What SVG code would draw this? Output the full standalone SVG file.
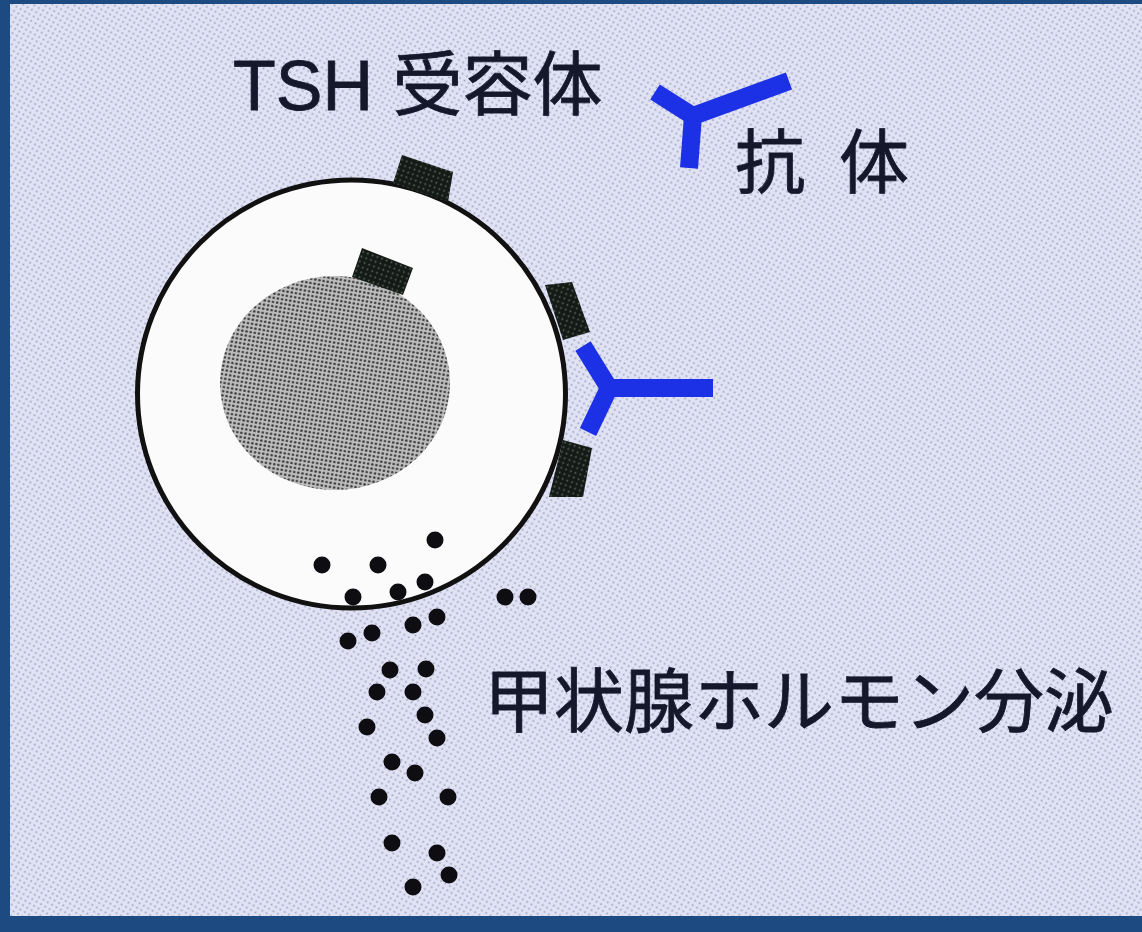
<svg xmlns="http://www.w3.org/2000/svg" width="1142" height="932" viewBox="0 0 1142 932">
  <defs>
    <!-- printed halftone screens -->
    <pattern id="screen-bg" width="5" height="5" patternUnits="userSpaceOnUse" patternTransform="rotate(30)">
      <rect width="5" height="5" fill="#e1e3f4"/>
      <circle cx="2.5" cy="2.5" r="1" fill="#9ca1c2"/>
    </pattern>
    <pattern id="screen-nucleus" width="4.2" height="4.2" patternUnits="userSpaceOnUse" patternTransform="rotate(10)">
      <rect width="4.2" height="4.2" fill="#bdbdbd"/>
      <circle cx="2.1" cy="2.1" r="1.35" fill="#3f3f3f"/>
    </pattern>
    <pattern id="screen-receptor" width="5" height="5" patternUnits="userSpaceOnUse" patternTransform="rotate(20)">
      <rect width="5" height="5" fill="#141a16"/>
      <circle cx="2.5" cy="2.5" r="0.9" fill="#5e6b61"/>
    </pattern>
    <style>
      .label { font-family: "Liberation Sans", "Noto Sans CJK JP", sans-serif; font-size: 70px; fill: #15182a; stroke: #15182a; stroke-width: 0.8px; }
      .membrane { fill: #fcfbfb; stroke: #111; stroke-width: 5; }
      .receptor { fill: url(#screen-receptor); }
      .antibody { fill: none; stroke: #1c30e6; stroke-width: 18; stroke-linejoin: miter; stroke-linecap: butt; }
      .hormone circle { fill: #0d0d12; r: 8.5px; }
    </style>
  </defs>

  <!-- page background and frame -->
  <rect x="0" y="0" width="1142" height="932" fill="url(#screen-bg)"/>
  <rect x="0" y="0" width="10" height="932" fill="#1d4a80"/>
  <rect x="0" y="0" width="1142" height="4" fill="#1d4a80"/>
  <rect x="0" y="916" width="1142" height="16" fill="#1d4a80"/>

  <!-- thyroid follicular cell -->
  <g id="cell">
    <circle class="membrane" cx="351.5" cy="394" r="214"/>
  </g>

  <g id="nucleus">
    <ellipse cx="335" cy="383" rx="115" ry="107" fill="url(#screen-nucleus)"/>
  </g>

  <!-- TSH receptors on the membrane -->
  <g id="receptors">
    <polygon class="receptor" points="402,155 453,172 448,202 393,183"/>
    <polygon class="receptor" points="362,248 413,268 403,295 352,277"/>
    <polygon class="receptor" points="545,285 572,282 590,332 563,340"/>
    <polygon class="receptor" points="563,440 592,448 583,497 549,497"/>
  </g>

  <!-- antibodies -->
  <g id="antibody-free">
    <path class="antibody" d="M655,92 L693,116 L789,81 M693,116 L689,168"/>
  </g>
  <g id="antibody-bound">
    <path class="antibody" d="M583,346 L609,388 L713,388 M609,388 L588,432"/>
  </g>

  <!-- secreted thyroid hormone -->
  <g id="hormone" class="hormone">
    <circle cx="435" cy="540"/>
    <circle cx="322" cy="565"/>
    <circle cx="378" cy="565"/>
    <circle cx="425" cy="582"/>
    <circle cx="353" cy="597"/>
    <circle cx="398" cy="592"/>
    <circle cx="505" cy="597"/>
    <circle cx="528" cy="597"/>
    <circle cx="437" cy="617"/>
    <circle cx="413" cy="625"/>
    <circle cx="372" cy="633"/>
    <circle cx="348" cy="641"/>
    <circle cx="390" cy="670"/>
    <circle cx="426" cy="669"/>
    <circle cx="377" cy="692"/>
    <circle cx="413" cy="692"/>
    <circle cx="425" cy="715"/>
    <circle cx="367" cy="727"/>
    <circle cx="437" cy="738"/>
    <circle cx="392" cy="762"/>
    <circle cx="415" cy="773"/>
    <circle cx="379" cy="797"/>
    <circle cx="448" cy="797"/>
    <circle cx="392" cy="843"/>
    <circle cx="437" cy="853"/>
    <circle cx="449" cy="875"/>
    <circle cx="413" cy="887"/>
  </g>

  <!-- labels -->
  <g id="labels">
    <text class="label" x="233" y="110">TSH 受容体</text>
    <text class="label" x="735" y="188" textLength="174" lengthAdjust="spacing">抗 体</text>
    <text class="label" x="484" y="727">甲状腺ホルモン分泌</text>
  </g>
</svg>
